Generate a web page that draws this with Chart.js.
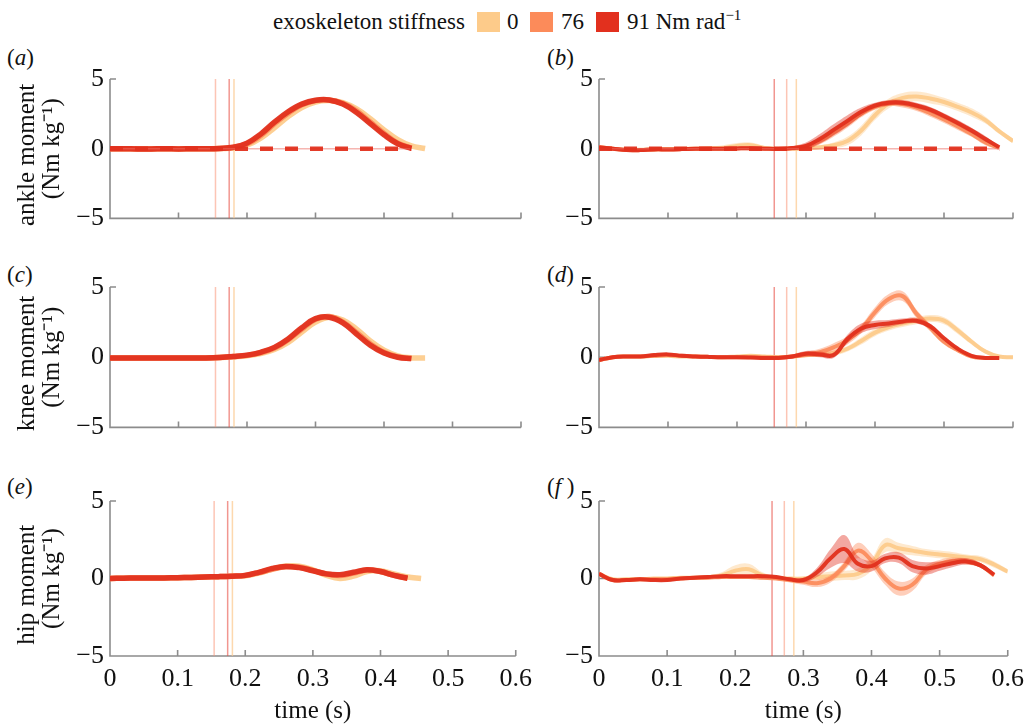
<!DOCTYPE html>
<html>
<head>
<meta charset="utf-8">
<script src="https://cdn.jsdelivr.net/npm/chart.js@4.4.1/dist/chart.umd.min.js"></script>
<style>
  html, body { margin:0; padding:0; background:#fff; }
  #wrap { position:relative; width:1032px; height:724px; overflow:hidden; font-family:'Liberation Serif','Times New Roman',serif; color:#111; }
  canvas { position:absolute; }
  .lbl { position:absolute; font-size:23px; line-height:26px; white-space:nowrap; }
  .box { position:absolute; width:23px; height:20px; }
</style>
</head>
<body>
<div id="wrap">
  <span class="lbl" style="left:273px;top:9px">exoskeleton stiffness</span>
  <div class="box" style="left:477px;top:12px;background:#fdcb8a"></div>
  <span class="lbl" style="left:507px;top:9px">0</span>
  <div class="box" style="left:530px;top:12px;background:#fc8b5a"></div>
  <span class="lbl" style="left:561px;top:9px">76</span>
  <div class="box" style="left:596px;top:12px;background:#e2301e"></div>
  <span class="lbl" style="left:627px;top:9px">91 Nm rad<sup style="font-size:15px;line-height:0">−1</sup></span>

  <span class="lbl" style="left:7px;top:45px">(<i>a</i>)</span>
  <span class="lbl" style="left:547px;top:45px">(<i>b</i>)</span>
  <span class="lbl" style="left:7px;top:262px">(<i>c</i>)</span>
  <span class="lbl" style="left:547px;top:262px">(<i>d</i>)</span>
  <span class="lbl" style="left:7px;top:474px">(<i>e</i>)</span>
  <span class="lbl" style="left:547px;top:474px">(<i>f</i> )</span>
</div>
<script>
// ---------------- DATA ----------------
const stiffness = ['0', '76', '91'];
const xTickLabels = ['0', '0.1', '0.2', '0.3', '0.4', '0.5', '0.6'];
const yTickValues = [-5, 0, 5];
const yTickLabels = ['−5', '0', '5'];

// time bases (s)
const tL = [0,0.02,0.04,0.06,0.08,0.10,0.12,0.14,0.16,0.18,0.20,0.22,0.24,0.26,0.28,0.30,0.32,0.34,0.36,0.38,0.40,0.42,0.44,0.46];
const tR = [0,0.02,0.04,0.06,0.08,0.10,0.12,0.14,0.16,0.18,0.20,0.22,0.24,0.26,0.28,0.30,0.32,0.34,0.36,0.38,0.40,0.42,0.44,0.46,0.48,0.50,0.52,0.54,0.56,0.58,0.60];

// (a) ankle, left
const ankL0  = [0,0,-0.02,-0.02,0,-0.02,0,0,0.02,0.05,0.25,0.75,1.5,2.3,2.95,3.35,3.45,3.3,2.85,2.15,1.35,0.65,0.2,0.02];
const ankL76 = [0,0,-0.02,-0.02,0,-0.02,0,0,0.02,0.08,0.35,0.95,1.8,2.55,3.15,3.45,3.5,3.25,2.7,1.9,1.1,0.4,0.05,null];
const ankL91 = [0,0,-0.02,-0.02,0,-0.02,0,0,0.02,0.1,0.4,1.05,1.9,2.65,3.2,3.48,3.5,3.2,2.6,1.8,1.0,0.35,0.03,null];
// (b) ankle, right
const ankR0  = [0.1,0,-0.08,-0.08,-0.05,-0.03,0,0,0.02,0.05,0.2,0.25,0.05,0,0,0.02,0.1,0.25,0.55,1.3,2.4,3.25,3.65,3.75,3.6,3.35,3.0,2.6,2.05,1.25,0.55];
const ankR76 = [0.1,0,-0.1,-0.1,-0.05,-0.05,-0.03,0,0,0,0.02,0.03,0,-0.02,0.03,0.15,0.55,1.15,1.8,2.5,3.0,3.25,3.2,2.95,2.55,2.1,1.6,1.05,0.45,0.05,null];
const ankR91 = [0.1,0,-0.1,-0.1,-0.05,-0.05,-0.03,0,0,0,0.02,0.03,0,-0.02,0.05,0.2,0.7,1.35,2.0,2.65,3.1,3.3,3.3,3.1,2.8,2.35,1.85,1.3,0.7,0.1,null];
const sdB0   = [0.1,0.1,0.1,0.1,0.1,0.1,0.1,0.1,0.15,0.2,0.2,0.2,0.15,0.1,0.1,0.1,0.15,0.2,0.3,0.35,0.35,0.35,0.35,0.35,0.35,0.3,0.3,0.3,0.25,0.2,0.15];
const sdB76  = [0.1,0.1,0.1,0.1,0.1,0.1,0.1,0.1,0.1,0.1,0.1,0.1,0.1,0.1,0.15,0.2,0.25,0.3,0.3,0.25,0.2,0.2,0.25,0.25,0.25,0.25,0.25,0.2,0.2,0.1,null];
const sdB91  = [0.1,0.1,0.1,0.1,0.1,0.1,0.1,0.1,0.1,0.1,0.1,0.1,0.1,0.1,0.15,0.25,0.35,0.4,0.4,0.3,0.2,0.2,0.2,0.2,0.2,0.2,0.2,0.2,0.2,0.1,null];
// exoskeleton torque (dashed)
const exoTimeA = [0, 0.44];
const exoA     = [0, 0];
const exoTimeB = [0, 0.58];
const exoB     = [0, 0];

// (c) knee, left
const kneL0  = [-0.05,-0.05,-0.05,-0.05,-0.05,-0.05,-0.05,-0.05,-0.02,0.03,0.1,0.25,0.55,1.05,1.8,2.5,2.85,2.65,2.0,1.15,0.5,0.1,-0.05,-0.05];
const kneL76 = [-0.05,-0.05,-0.05,-0.05,-0.05,-0.05,-0.05,-0.05,-0.02,0.05,0.13,0.32,0.65,1.25,2.0,2.7,2.9,2.5,1.75,0.95,0.35,0.02,-0.1,null];
const kneL91 = [-0.05,-0.05,-0.05,-0.05,-0.05,-0.05,-0.05,-0.05,-0.02,0.05,0.15,0.35,0.7,1.3,2.1,2.75,2.85,2.45,1.65,0.85,0.3,0,-0.1,null];
// (d) knee, right
const kneR0  = [-0.2,0,0.05,0.05,0.1,0.1,0.05,0.05,0.02,0,0.05,0.1,0.05,0,0.05,0.15,0.2,0.3,0.6,1.15,1.75,2.15,2.4,2.6,2.75,2.6,1.9,1.1,0.4,0.05,0];
const kneR76 = [-0.2,0,0.05,0.05,0.1,0.15,0.1,0.05,0.02,0,0,0,-0.02,-0.02,0.05,0.2,0.35,0.7,1.2,2.0,3.2,4.15,4.35,3.1,2.1,1.1,0.5,0.05,-0.05,-0.05,null];
const kneR91 = [-0.2,0,0.05,0.05,0.15,0.2,0.1,0.05,0.02,0,0,-0.02,-0.05,-0.05,0.05,0.25,0.2,0.15,1.3,2.05,2.3,2.4,2.55,2.6,2.2,1.35,0.6,0.1,-0.05,-0.05,null];
const sdD0   = [0.1,0.1,0.1,0.1,0.1,0.1,0.1,0.1,0.1,0.1,0.1,0.1,0.1,0.1,0.1,0.15,0.15,0.2,0.2,0.25,0.25,0.25,0.25,0.25,0.25,0.25,0.25,0.2,0.15,0.1,0.1];
const sdD76  = [0.1,0.1,0.1,0.1,0.1,0.1,0.1,0.1,0.1,0.1,0.1,0.1,0.1,0.1,0.15,0.2,0.25,0.3,0.3,0.3,0.35,0.35,0.35,0.3,0.25,0.2,0.15,0.1,0.1,0.1,null];
const sdD91  = [0.1,0.1,0.1,0.1,0.1,0.1,0.1,0.1,0.1,0.1,0.1,0.1,0.1,0.1,0.15,0.2,0.2,0.2,0.3,0.35,0.3,0.25,0.2,0.2,0.2,0.15,0.15,0.1,0.1,0.1,null];

// (e) hip, left
const hipL0  = [0,0.02,0.03,0.03,0.04,0.05,0.07,0.1,0.12,0.14,0.17,0.35,0.6,0.8,0.8,0.55,0.2,0.0,0.15,0.45,0.5,0.3,0.1,0.0];
const hipL76 = [0,0.02,0.03,0.03,0.04,0.05,0.07,0.1,0.12,0.15,0.2,0.38,0.6,0.75,0.72,0.52,0.3,0.2,0.35,0.55,0.45,0.2,0.02,null];
const hipL91 = [0,0.02,0.03,0.03,0.04,0.05,0.07,0.1,0.12,0.15,0.2,0.4,0.65,0.78,0.7,0.5,0.3,0.25,0.4,0.57,0.45,0.2,0.02,null];
// (f) hip, right
const hipR0  = [0.3,-0.05,-0.05,-0.05,0,0,0.05,0.05,0.1,0.2,0.5,0.6,0.2,0.05,0,0,0.1,0.15,0.2,0.3,0.9,2.15,1.95,1.8,1.65,1.55,1.45,1.35,1.25,0.9,0.45];
const hipR76 = [0.3,-0.1,-0.1,-0.05,-0.05,-0.05,0,0.05,0.05,0.1,0.1,0.1,0.05,0,-0.1,-0.2,-0.3,0,0.8,1.8,1.15,0.0,-0.65,-0.4,0.55,0.95,1.15,1.1,0.85,0.2,null];
const hipR91 = [0.3,-0.1,-0.1,-0.05,-0.1,-0.1,0,0.05,0.1,0.15,0.15,0.15,0.15,0.1,-0.05,-0.1,0.4,1.3,1.9,0.95,0.8,1.3,1.35,0.8,0.65,0.8,1.0,1.1,0.85,0.25,null];
const sdF0   = [0.1,0.1,0.1,0.1,0.1,0.1,0.1,0.1,0.1,0.2,0.35,0.35,0.2,0.1,0.1,0.1,0.2,0.3,0.3,0.35,0.4,0.45,0.35,0.3,0.25,0.25,0.25,0.2,0.2,0.2,0.15];
const sdF76  = [0.1,0.1,0.1,0.1,0.1,0.1,0.1,0.1,0.1,0.1,0.1,0.1,0.1,0.1,0.15,0.2,0.25,0.25,0.3,0.5,0.45,0.4,0.45,0.4,0.3,0.25,0.2,0.2,0.15,0.1,null];
const sdF91  = [0.1,0.1,0.1,0.1,0.1,0.1,0.1,0.1,0.1,0.1,0.1,0.1,0.1,0.1,0.1,0.15,0.3,0.6,0.9,0.5,0.35,0.3,0.35,0.4,0.4,0.3,0.25,0.2,0.15,0.1,null];

// event lines (s) for stiffness 0, 76, 91
const eventsL = [0.181, 0.154, 0.174];
const eventsR = [0.286, 0.272, 0.254];

// ---------------- STYLE ----------------
const RGB = ['253,203,138', '252,139,90', '226,48,30'];
const FONT = "'Liberation Serif','Times New Roman',serif";
Chart.defaults.font.family = FONT;
Chart.defaults.color = '#111';
const NB = '\u00a0\u00a0';

function pts(t, v) {
  const out = [];
  t.forEach((x, i) => { if (v[i] !== null && v[i] !== undefined) out.push({x: x, y: v[i]}); });
  return out;
}
function bandPts(t, v, sd, sign) {
  const out = [];
  t.forEach((x, i) => { if (v[i] !== null && sd[i] !== null) out.push({x: x, y: v[i] + sign * sd[i]}); });
  return out;
}

const axesPlugin = {
  id: 'axesPlugin',
  beforeDatasetsDraw(chart) {
    const {ctx, chartArea: {left, right, top, bottom}, scales: {x, y}} = chart;
    ctx.save();
    ctx.strokeStyle = '#8c8c8c';
    ctx.lineWidth = 1.6;
    ctx.beginPath();
    ctx.moveTo(left, top); ctx.lineTo(left, bottom); ctx.lineTo(right, bottom);
    x.ticks.forEach(tk => { const px = x.getPixelForValue(tk.value); ctx.moveTo(px, bottom); ctx.lineTo(px, bottom - 6); });
    y.ticks.forEach(tk => { const py = y.getPixelForValue(tk.value); ctx.moveTo(left, py); ctx.lineTo(left + 6, py); });
    ctx.stroke();
    ctx.restore();
  }
};

const rows = [
  {top: 40,  pad: 39, xH: 6,  h: 200},
  {top: 250, pad: 37, xH: 6,  h: 199},
  {top: 460, pad: 41, xH: 68, h: 264}
];

const panels = [
  {col: 0, row: 0, t: tL, s: [ankL0, ankL76, ankL91], ev: eventsL, exo: [exoTimeA, exoA], title: ['ankle moment' + NB, '(Nm kg⁻¹)']},
  {col: 1, row: 0, t: tR, s: [ankR0, ankR76, ankR91], sd: [sdB0, sdB76, sdB91], ev: eventsR, exo: [exoTimeB, exoB]},
  {col: 0, row: 1, t: tL, s: [kneL0, kneL76, kneL91], ev: eventsL, title: ['knee moment' + NB, '(Nm kg⁻¹)']},
  {col: 1, row: 1, t: tR, s: [kneR0, kneR76, kneR91], sd: [sdD0, sdD76, sdD91], ev: eventsR},
  {col: 0, row: 2, t: tL, s: [hipL0, hipL76, hipL91], ev: eventsL, title: ['hip moment' + NB, '(Nm kg⁻¹)']},
  {col: 1, row: 2, t: tR, s: [hipR0, hipR76, hipR91], sd: [sdF0, sdF76, sdF91], ev: eventsR}
];

const wrap = document.getElementById('wrap');

panels.forEach(p => {
  const r = rows[p.row];
  const left = p.col === 0 ? 0 : 540;
  const width = p.col === 0 ? 540 : 492;
  const yW = p.col === 0 ? 110 : 59;
  const cv = document.createElement('canvas');
  cv.width = width; cv.height = r.h;
  cv.style.left = left + 'px'; cv.style.top = r.top + 'px';
  cv.style.width = width + 'px'; cv.style.height = r.h + 'px';
  wrap.appendChild(cv);

  const datasets = [];
  // event lines (bottom)
  p.ev.forEach((tv, i) => {
    datasets.push({
      data: [{x: tv, y: -5}, {x: tv, y: 5}],
      borderColor: i === 2 ? 'rgba(232,80,70,0.6)' : (i === 1 ? 'rgba(250,150,120,0.55)' : 'rgba(252,200,140,0.7)'),
      borderWidth: 1.5, pointRadius: 0, fill: false, order: 20 + i, tension: 0
    });
  });
  // bands + means, stiffness 0 lowest, 91 on top
  [0, 1, 2].forEach(k => {
    if (p.sd) {
      datasets.push({
        data: bandPts(p.t, p.s[k], p.sd[k], 1), borderWidth: 0, pointRadius: 0,
        backgroundColor: 'rgba(' + RGB[k] + ',0.42)', fill: '+1', order: 12 - k * 3, tension: 0.4
      });
      datasets.push({
        data: bandPts(p.t, p.s[k], p.sd[k], -1), borderWidth: 0, pointRadius: 0,
        fill: false, order: 12 - k * 3, tension: 0.4
      });
    }
    datasets.push({
      label: stiffness[k],
      data: pts(p.t, p.s[k]),
      borderColor: 'rgba(' + RGB[k] + ',' + (k === 2 ? 0.95 : 0.92) + ')',
      borderWidth: p.sd ? 4 : 5.5, pointRadius: 0, fill: false,
      order: 11 - k * 3, tension: 0.4
    });
  });
  if (p.exo) {
    datasets.push({
      data: pts(p.exo[0], p.exo[1]), borderColor: 'rgba(238,110,100,0.5)', borderWidth: 1.5,
      pointRadius: 0, fill: false, order: 1, tension: 0
    });
    datasets.push({
      data: pts(p.exo[0], p.exo[1]), borderColor: 'rgba(226,48,30,0.95)', borderWidth: 4.5,
      borderDash: [13, 12], pointRadius: 0, fill: false, order: 0, tension: 0
    });
  }

  const bottomRow = p.row === 2;
  new Chart(cv, {
    type: 'line',
    data: {datasets: datasets},
    plugins: [axesPlugin],
    options: {
      responsive: false, animation: false, devicePixelRatio: 1,
      layout: {padding: {top: r.pad, right: 19, left: 0, bottom: 0}},
      plugins: {legend: {display: false}, tooltip: {enabled: false}},
      scales: {
        x: {
          type: 'linear', min: 0, max: 0.6,
          grid: {display: false, drawTicks: false}, border: {display: false},
          ticks: {
            display: bottomRow, stepSize: 0.1, padding: 8, maxRotation: 0, autoSkip: false,
            font: {size: 26, family: FONT}, color: '#111',
            callback: v => xTickLabels[Math.round(v * 10)]
          },
          title: {display: bottomRow, text: 'time (s)', font: {size: 25, family: FONT, lineHeight: 1.0}, color: '#111', padding: {top: 0, bottom: 0}},
          afterFit: s => { s.height = r.xH; }
        },
        y: {
          type: 'linear', min: -5, max: 5,
          grid: {display: false, drawTicks: false}, border: {display: false},
          afterBuildTicks: s => { s.ticks = yTickValues.map(v => ({value: v})); },
          ticks: {
            padding: 6, font: {size: 26, family: FONT}, color: '#111',
            callback: v => yTickLabels[yTickValues.indexOf(v)]
          },
          title: {display: !!p.title, text: p.title || '', font: {size: 25, family: FONT, lineHeight: 1.0}, color: '#111', padding: {top: 15, bottom: 0}},
          afterFit: s => { s.width = yW; }
        }
      }
    }
  });
});
</script>
</body>
</html>
